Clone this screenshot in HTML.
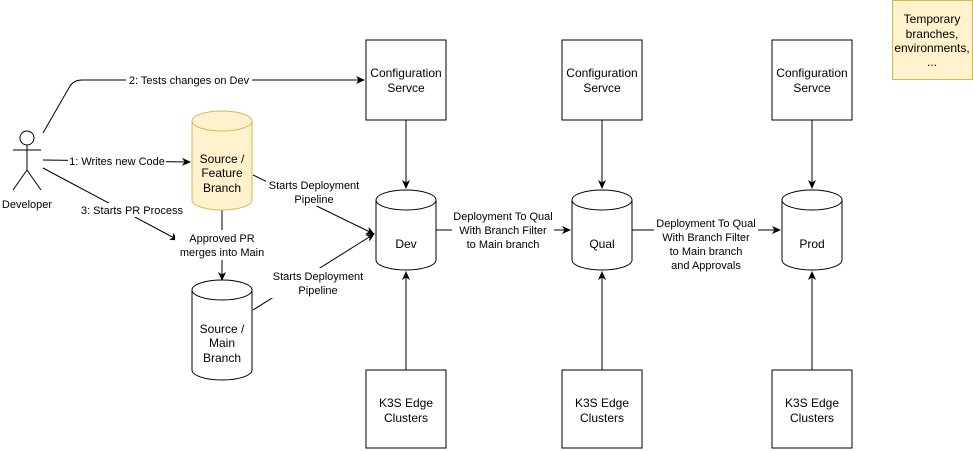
<!DOCTYPE html>
<html><head><meta charset="utf-8"><style>
body{margin:0;background:#fff;}
svg{display:block;font-family:"Liberation Sans",Arial,sans-serif;font-size:12px;}
</style></head><body>
<svg width="973" height="451" viewBox="0 0 973 451" xmlns="http://www.w3.org/2000/svg">
<defs>
<marker id="a" markerWidth="10" markerHeight="10" refX="8" refY="5" orient="auto" markerUnits="userSpaceOnUse">
<path d="M0,1 L9,5 L0,9 L2.5,5 Z" fill="#000"/></marker>
</defs>
<g stroke="#000" fill="none" stroke-width="1">
<!-- actor -->
<circle cx="27" cy="138" r="7" fill="#fff"/>
<line x1="27" y1="145" x2="27" y2="170"/>
<line x1="13" y1="150" x2="41" y2="150"/>
<line x1="27" y1="170" x2="13" y2="190"/>
<line x1="27" y1="170" x2="41" y2="190"/>
<!-- edges -->
<path d="M43,133 L70,86 Q74,80 82,80 L364,80" marker-end="url(#a)"/>
<path d="M43,160 L190,162" marker-end="url(#a)"/>
<path d="M43,168 L178,240" marker-end="url(#a)"/>
<path d="M222,210 L222,280" marker-end="url(#a)"/>
<path d="M253,175 L374,234" marker-end="url(#a)"/>
<path d="M253,310 L374,234" marker-end="url(#a)"/>
<path d="M436,230 L570,230" marker-end="url(#a)"/>
<path d="M632,230 L780,230" marker-end="url(#a)"/>
<path d="M406,120 L406,188" marker-end="url(#a)"/>
<path d="M602,120 L602,188" marker-end="url(#a)"/>
<path d="M812,120 L812,188" marker-end="url(#a)"/>
<path d="M406,370 L406,272" marker-end="url(#a)"/>
<path d="M602,370 L602,272" marker-end="url(#a)"/>
<path d="M812,370 L812,272" marker-end="url(#a)"/>
</g>
<!-- label backgrounds -->
<g fill="#fff">
<rect x="126" y="73" width="126" height="14"/>
<rect x="68" y="154" width="98" height="14"/>
<rect x="80" y="203" width="104" height="14"/>
<rect x="175" y="230" width="95" height="30"/>
<rect x="266" y="176" width="96" height="30"/>
<rect x="270" y="268" width="96" height="30"/>
<rect x="452" y="209" width="102" height="44"/>
<rect x="654" y="214" width="104" height="56"/>
</g>
<g fill="#fff" stroke="#000">
<rect x="366" y="40" width="80" height="80"/>
<rect x="562" y="40" width="80" height="80"/>
<rect x="772" y="40" width="80" height="80"/>
<rect x="366" y="370" width="80" height="78"/>
<rect x="562" y="370" width="80" height="78"/>
<rect x="772" y="370" width="80" height="78"/>
<path d="M376,200 A30,10 0 0 1 436,200 L436,260 A30,10 0 0 1 376,260 Z"/>
<path d="M376,200 A30,10 0 0 0 436,200"/>
<path d="M572,200 A30,10 0 0 1 632,200 L632,260 A30,10 0 0 1 572,260 Z"/>
<path d="M572,200 A30,10 0 0 0 632,200"/>
<path d="M782,200 A30,10 0 0 1 842,200 L842,260 A30,10 0 0 1 782,260 Z"/>
<path d="M782,200 A30,10 0 0 0 842,200"/>
<path d="M192,290 A30,10 0 0 1 252,290 L252,370 A30,10 0 0 1 192,370 Z"/>
<path d="M192,290 A30,10 0 0 0 252,290"/>
</g>
<g fill="#fff2cc" stroke="#d6b656">
<path d="M192,121 A30,10 0 0 1 252,121 L252,200 A30,10 0 0 1 192,200 Z"/>
<path d="M192,121 A30,10 0 0 0 252,121" fill="none"/>
<rect x="892.5" y="0.5" width="80" height="79"/>
</g>
<g text-anchor="middle" fill="#000">
<text x="27" y="208" font-size="11">Developer</text>
<text x="189" y="84" font-size="11">2: Tests changes on Dev</text>
<text x="117" y="165" font-size="11">1: Writes new Code</text>
<text x="132" y="214" font-size="11">3: Starts PR Process</text>
<text x="222" y="242" font-size="11">Approved PR</text>
<text x="222" y="256" font-size="11">merges into Main</text>
<text x="314" y="189" font-size="11">Starts Deployment</text>
<text x="314" y="203" font-size="11">Pipeline</text>
<text x="318" y="280" font-size="11">Starts Deployment</text>
<text x="318" y="294" font-size="11">Pipeline</text>
<text x="503" y="220" font-size="11">Deployment To Qual</text>
<text x="503" y="234" font-size="11">With Branch Filter</text>
<text x="503" y="248" font-size="11">to Main branch</text>
<text x="706" y="227" font-size="11">Deployment To Qual</text>
<text x="706" y="241" font-size="11">With Branch Filter</text>
<text x="706" y="255" font-size="11">to Main branch</text>
<text x="706" y="269" font-size="11">and Approvals</text>
<text x="222" y="163">Source  /</text>
<text x="222" y="177">Feature</text>
<text x="222" y="192">Branch</text>
<text x="222" y="333">Source  /</text>
<text x="222" y="347">Main</text>
<text x="222" y="362">Branch</text>
<text x="406" y="248">Dev</text>
<text x="602" y="248">Qual</text>
<text x="812" y="248">Prod</text>
<text x="406" y="77">Configuration</text><text x="406" y="92">Servce</text>
<text x="602" y="77">Configuration</text><text x="602" y="92">Servce</text>
<text x="812" y="77">Configuration</text><text x="812" y="92">Servce</text>
<text x="406" y="407">K3S Edge</text><text x="406" y="422">Clusters</text>
<text x="602" y="407">K3S Edge</text><text x="602" y="422">Clusters</text>
<text x="812" y="407">K3S Edge</text><text x="812" y="422">Clusters</text>
<text x="932" y="23">Temporary</text>
<text x="932" y="38">branches,</text>
<text x="932" y="52">environments,</text>
<text x="932" y="66">...</text>
</g>
</svg>
</body></html>
